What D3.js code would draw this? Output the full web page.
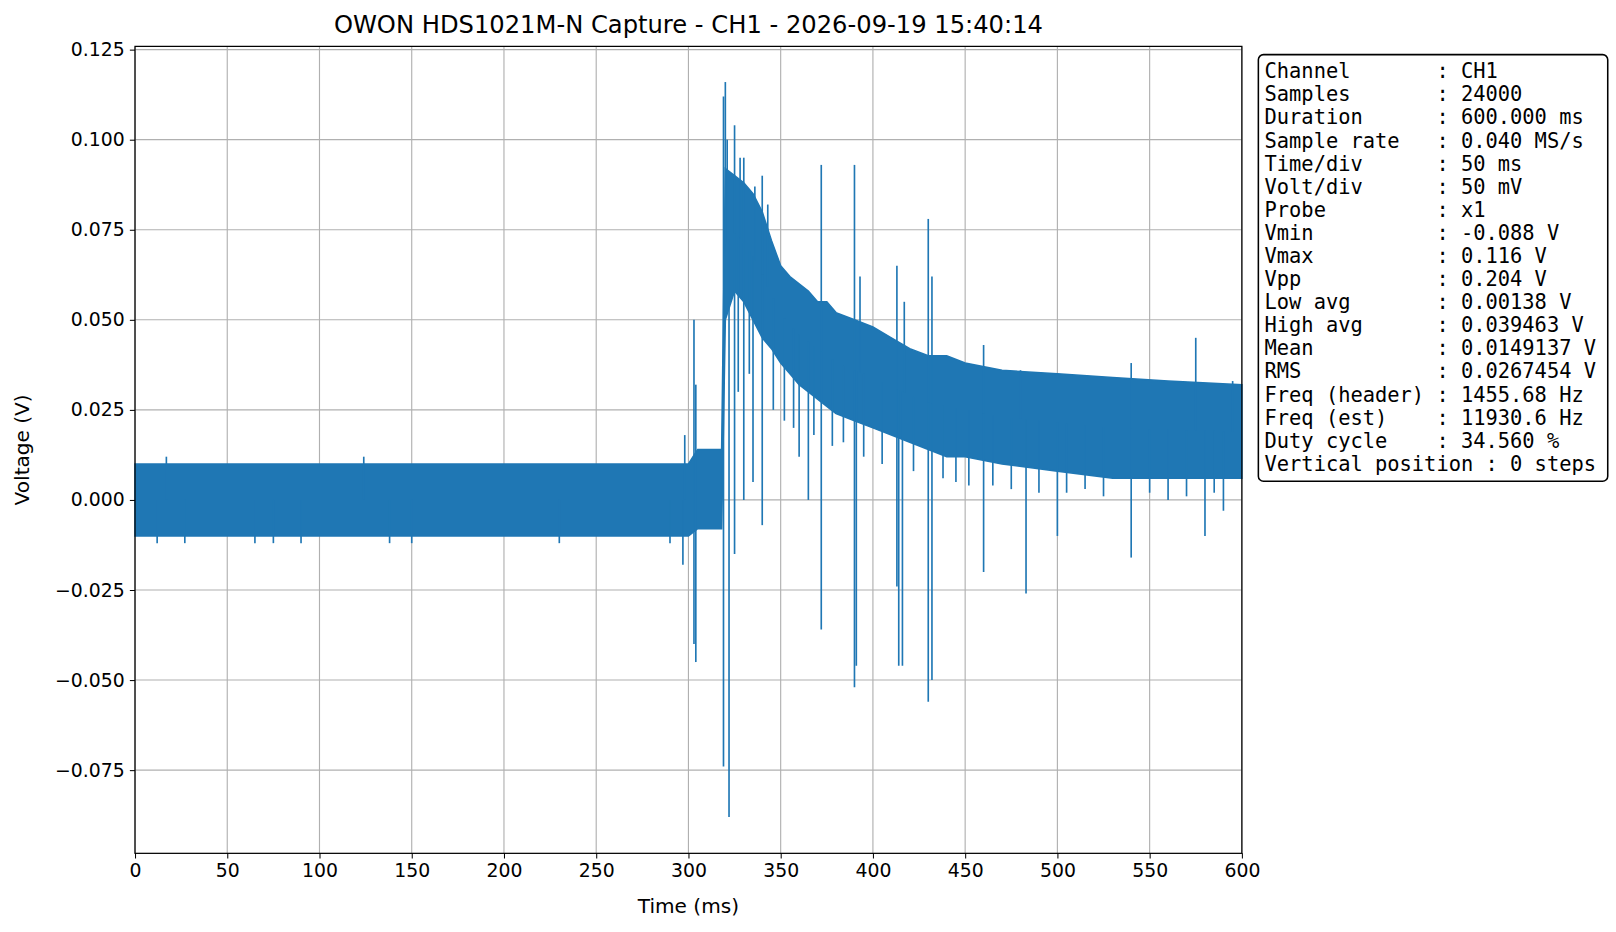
<!DOCTYPE html><html><head><meta charset="utf-8">
<script src="https://cdn.jsdelivr.net/npm/d3@7"></script>
<style>body{margin:0;background:#fff}text{font-family:"DejaVu Sans",sans-serif}</style></head><body>
<svg id="c" width="1616" height="932"></svg>
<script>
const envT  =[0,295,300,305,318,320,325,330,335,340,345,350,355,360,365,370,375,380,390,400,410,420,430,440,450,470,500,530,560,600];
const envHi =[0.010,0.010,0.010,0.014,0.014,0.092,0.090,0.088,0.085,0.080,0.072,0.065,0.062,0.060,0.058,0.055,0.055,0.052,0.050,0.048,0.045,0.042,0.040,0.040,0.038,0.036,0.035,0.034,0.033,0.032];
const envLo =[-0.010,-0.010,-0.010,-0.008,-0.008,0.050,0.058,0.055,0.050,0.045,0.042,0.038,0.035,0.032,0.030,0.028,0.026,0.024,0.022,0.020,0.018,0.016,0.014,0.012,0.012,0.010,0.008,0.006,0.006,0.006];
const spikeT=[17,124,298,303,304,319,320,321,325,328,330,336,340,343,372,390,393,413,417,430,432,460,480,540,575,595,
  297,303,304,319,322,325,330,335,340,360,365,372,390,391,413,414,416,430,432,460,483,500,540,580,12,27,65,75,90,138,150,230,290,
  327,333,346,352,357,368,378,384,395,405,422,438,445,452,465,475,490,505,515,525,550,560,570,585,590];
const spikeV=[0.012,0.012,0.018,0.050,0.032,0.112,0.116,0.100,0.104,0.095,0.095,0.087,0.090,0.082,0.093,0.093,0.062,0.065,0.055,0.078,0.062,0.043,0.036,0.038,0.045,0.033,
  -0.018,-0.040,-0.045,-0.074,-0.088,-0.015,0.000,0.005,-0.007,0.012,0.000,-0.036,-0.052,-0.046,-0.024,-0.046,-0.046,-0.056,-0.050,-0.020,-0.026,-0.010,-0.016,-0.010,-0.012,-0.012,-0.012,-0.012,-0.012,-0.012,-0.012,-0.012,-0.012,
  0.030,0.035,0.025,0.022,0.020,0.018,0.015,0.016,0.012,0.010,0.008,0.006,0.005,0.004,0.004,0.003,0.002,0.002,0.003,0.001,0.002,0.000,0.001,0.002,-0.003];
const xTicks=d3.range(0,601,50);
const yTicks=[-0.075,-0.05,-0.025,0,0.025,0.05,0.075,0.1,0.125];
const info=["Channel       : CH1","Samples       : 24000","Duration      : 600.000 ms","Sample rate   : 0.040 MS/s","Time/div      : 50 ms","Volt/div      : 50 mV","Probe         : x1","Vmin          : -0.088 V","Vmax          : 0.116 V","Vpp           : 0.204 V","Low avg       : 0.00138 V","High avg      : 0.039463 V","Mean          : 0.0149137 V","RMS           : 0.0267454 V","Freq (header) : 1455.68 Hz","Freq (est)    : 11930.6 Hz","Duty cycle    : 34.560 %","Vertical position : 0 steps"];
const L=131,R=1205,T=45,B=828,col="#1f77b4";
const svg=d3.select("#c").append("g").attr("transform","scale(1.0306)");
const x=d3.scaleLinear().domain([0,600]).range([L,R]);
const y=d3.scaleLinear().domain([-0.0981,0.1259]).range([B,T]);
const g=svg.append("g");
xTicks.forEach(t=>g.append("line").attr("x1",x(t)).attr("x2",x(t)).attr("y1",T).attr("y2",B).attr("stroke","#b0b0b0").attr("stroke-width",1.1));
yTicks.forEach(t=>g.append("line").attr("x1",L).attr("x2",R).attr("y1",y(t)).attr("y2",y(t)).attr("stroke","#b0b0b0").attr("stroke-width",1.1));
const env=envT.map((t,i)=>({t,h:envHi[i],l:envLo[i]}));
svg.append("path").datum(env).attr("d",d3.area().x(d=>x(d.t)).y0(d=>y(d.l)).y1(d=>y(d.h))).attr("fill",col).attr("stroke",col).attr("stroke-width",1.5);
const mid=t=>{const i=d3.bisectRight(envT,t)-1,j=Math.min(i+1,envT.length-1);const f=j===i?0:(t-envT[i])/(envT[j]-envT[i]);return ((envHi[i]+envLo[i])/2)*(1-f)+((envHi[j]+envLo[j])/2)*f;};
spikeT.forEach((t,i)=>svg.append("line").attr("x1",x(t)).attr("x2",x(t)).attr("y1",y(mid(t))).attr("y2",y(spikeV[i])).attr("stroke",col).attr("stroke-width",1.6));
const xa=svg.append("g").attr("transform",`translate(0,${B})`).call(d3.axisBottom(x).tickValues(xTicks).tickSize(5).tickPadding(5));
const ya=svg.append("g").attr("transform",`translate(${L},0)`).call(d3.axisLeft(y).tickValues(yTicks).tickSize(5).tickPadding(5).tickFormat(d=>d3.format(".3f")(d).replace("-","−")));
[xa,ya].forEach(a=>{a.selectAll("text").attr("font-size",18.3).attr("fill","#000");a.select(".domain").remove();a.selectAll("line").attr("stroke","#000");});
svg.append("rect").attr("x",L).attr("y",T).attr("width",R-L).attr("height",B-T).attr("fill","none").attr("stroke","#000").attr("stroke-width",1.2);
svg.append("text").attr("x",(L+R)/2).attr("y",32).attr("text-anchor","middle").attr("font-size",23.5).text("OWON HDS1021M-N Capture - CH1 - 2026-09-19 15:40:14");
svg.append("text").attr("x",(L+R)/2).attr("y",886).attr("text-anchor","middle").attr("font-size",19.5).text("Time (ms)");
svg.append("text").attr("transform",`translate(28,${(T+B)/2}) rotate(-90)`).attr("text-anchor","middle").attr("font-size",19.5).text("Voltage (V)");
svg.append("rect").attr("x",1221).attr("y",53).attr("width",339).attr("height",414).attr("rx",5).attr("fill","#fff").attr("stroke","#000").attr("stroke-width",1.5);
info.forEach((s,i)=>svg.append("text").attr("x",1227).attr("y",76+i*22.4).attr("font-size",19.8).style("font-family","DejaVu Sans Mono").attr("xml:space","preserve").style("white-space","pre").text(s));
</script></body></html>
